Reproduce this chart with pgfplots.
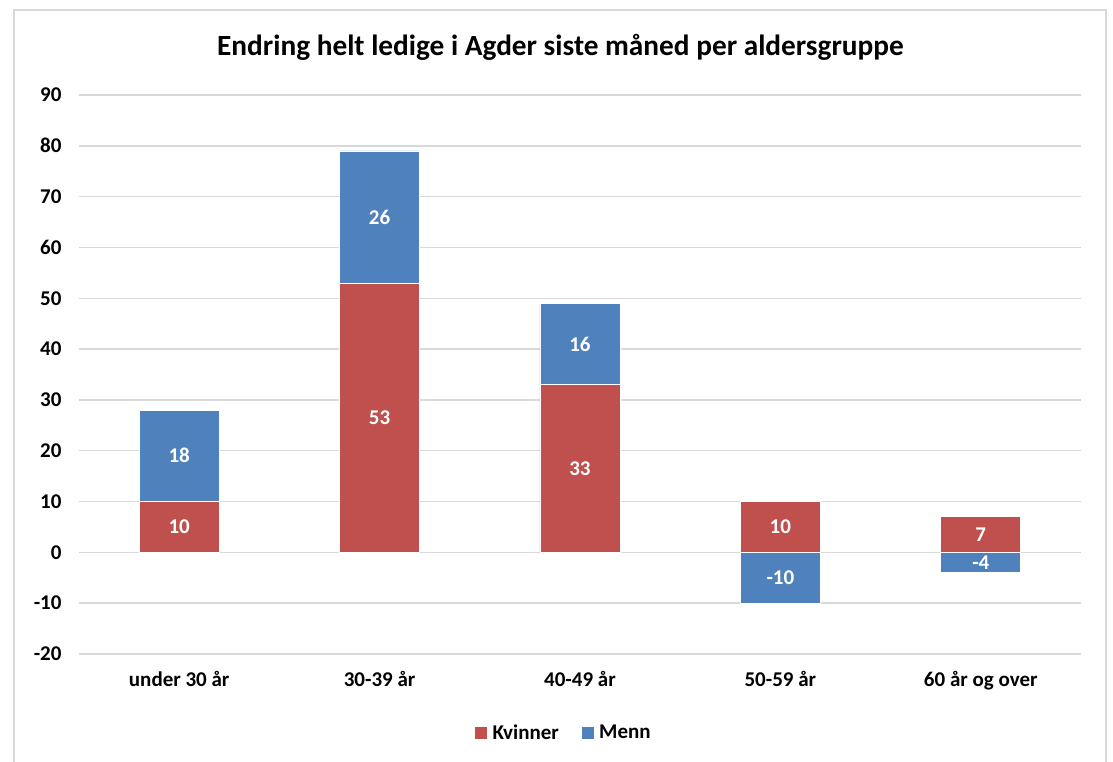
\documentclass[border=0pt]{standalone}
\usepackage{pgfplots}
\pgfplotsset{compat=1.18}
\usepackage{fontspec}
\setmainfont{Carlito}
\definecolor{kred}{HTML}{C0504D}
\definecolor{mblue}{HTML}{4F81BD}
\definecolor{gridc}{HTML}{D9D9D9}
\pgfplotsset{
  common/.style={
    at={(79pt,107pt)}, anchor=south west,
    scale only axis, width=1002pt, height=559pt,
    ybar stacked, bar width=80pt,
    xmin=-0.5, xmax=4.5, ymin=-20, ymax=90,
    /pgf/number format/assume math mode=true,
    nodes near coords,
    point meta=rawy,
    every node near coord/.append style={anchor=center, text=white,
      font=\fontsize{21}{24}\selectfont\bfseries},
  }
}
\begin{document}
\begin{tikzpicture}
\path[use as bounding box] (0pt,0pt) rectangle (1113pt,761pt);
\draw[gridc, line width=2pt] (14pt,-10pt) rectangle (1106pt,751pt);
\node[font=\fontsize{29.3}{34}\selectfont\bfseries] at (560.5pt,714pt) {Endring helt ledige i Agder siste måned per aldersgruppe};
\begin{axis}[
  common,
  ytick={-20,-10,...,90},
  xtick={0,1,2,3,4},
  xticklabels={under 30 år,30-39 år,40-49 år,50-59 år,60 år og over},
  axis line style={draw=none},
  tick style={draw=none},
  ymajorgrids, grid style={gridc, line width=1.5pt},
  tick label style={font=\fontsize{21}{24}\selectfont\bfseries},
  yticklabel style={xshift=-14pt},
  xticklabel style={yshift=-14pt},
  legend style={at={(axis description cs:0.484,-0.141)}, anchor=center, draw=none,
    font=\fontsize{21}{24}\selectfont\bfseries, legend columns=2,
    /tikz/every even column/.append style={column sep=21pt}},
  legend image code/.code={\fill[#1,draw=none] (0pt,-6pt) rectangle (12pt,6pt); \path (15pt,0pt);},
]
\addplot[fill=kred, draw=white, line width=0.75pt] coordinates {(0,10) (1,53) (2,33) (3,10) (4,7)};
\addlegendentry{Kvinner}
\addplot[fill=mblue, draw=white, line width=0.75pt] coordinates {(0,18) (1,26) (2,16)};
\addlegendentry{Menn}
\end{axis}
\begin{axis}[common, hide axis]
\addplot[fill=mblue, draw=white, line width=0.75pt] coordinates {(3,-10) (4,-4)};
\end{axis}
\end{tikzpicture}
\end{document}
